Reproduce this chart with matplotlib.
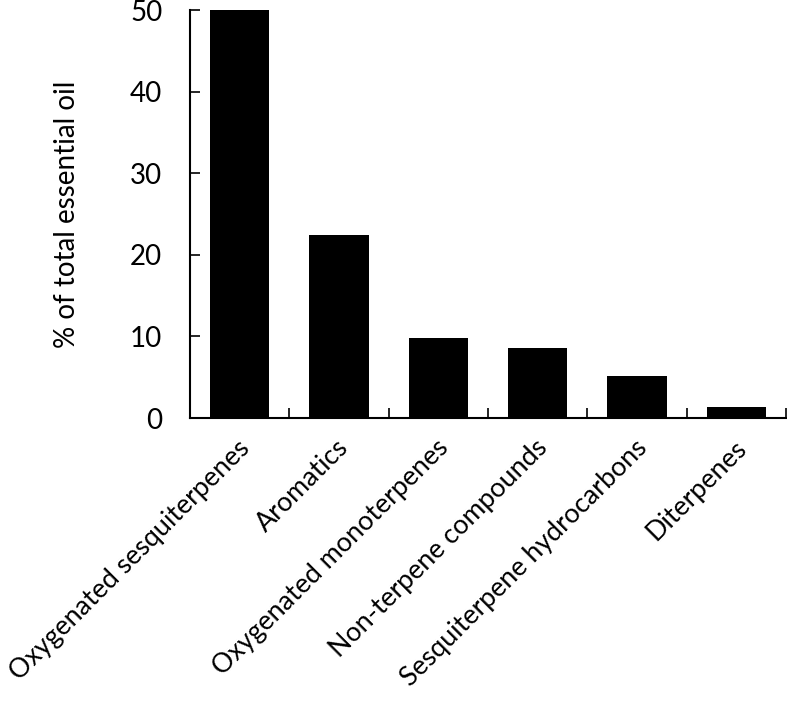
import matplotlib.pyplot as plt
import matplotlib.transforms as mtransforms
import numpy as np

categories = ['Oxygenated sesquiterpenes', 'Aromatics', 'Oxygenated monoterpenes',
              'Non-terpene compounds', 'Sesquiterpene hydrocarbons', 'Diterpenes']
values = [50.0, 22.4, 9.8, 8.6, 5.2, 1.3]
y_ticks = [0, 10, 20, 30, 40, 50]

plt.rcParams['font.family'] = ['Lato', 'DejaVu Sans']

fig = plt.figure(figsize=(7.87, 7.01), dpi=100)
ax = fig.add_axes([0.2414, 0.4037, 0.7573, 0.582])

x = np.arange(len(categories))
ax.bar(x, values, width=0.6, color='black')

ax.set_xlim(-0.5, len(categories) - 0.5)
ax.set_ylim(0, 50)
ax.set_yticks(y_ticks)
ax.tick_params(axis='y', direction='in', length=7, width=1.2, labelsize=20, pad=20)

# x ticks sit between the bars, labels are placed by hand
ax.set_xticks(np.arange(0.5, len(categories), 1.0))
ax.set_xticklabels([])
ax.tick_params(axis='x', direction='in', length=7, width=1.2)

for side in ['top', 'right']:
    ax.spines[side].set_visible(False)
for side in ['left', 'bottom']:
    ax.spines[side].set_linewidth(1.5)

offset = mtransforms.ScaledTranslation(6 / 100, -26 / 100, fig.dpi_scale_trans)
for xi, label in zip(x, categories):
    ax.text(xi, 0, label, rotation=45, ha='right', va='center',
            rotation_mode='anchor', fontsize=19.3,
            transform=ax.get_xaxis_transform() + offset)

ax.set_ylabel('% of total essential oil', fontsize=20, labelpad=36)

fig.savefig('out.png', dpi=100)
